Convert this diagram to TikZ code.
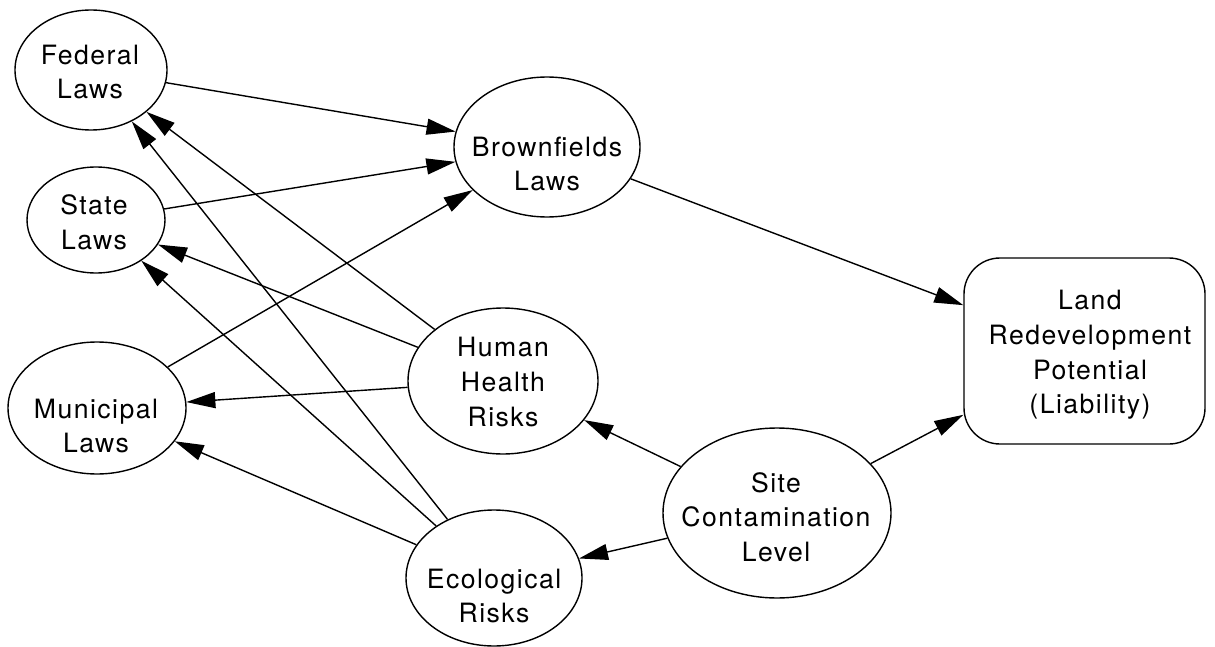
\documentclass[tikz,border=0pt]{standalone}
\usepackage{fontspec}
\setmainfont{TeX Gyre Heros}[LetterSpace=5.5]
\usetikzlibrary{shapes.geometric,arrows.meta}

\begin{document}
\begin{tikzpicture}[x=0.5pt,y=-0.5pt,
  oval/.style={ellipse, draw, line width=0.7pt, inner sep=0pt},
  lbl/.style={align=center, font=\fontsize{13.3}{17.3}\selectfont, inner sep=0pt},
  link/.style={line width=0.7pt, -{Triangle[length=14.5pt,width=8pt]}},
]
\useasboundingbox (0,0) rectangle (1215,647);

% nodes (outlines)
\node[oval, minimum width=76pt, minimum height=60pt] (fed) at (91,70) {};
\node[oval, minimum width=69pt, minimum height=53pt] (state) at (96,220) {};
\node[oval, minimum width=89pt, minimum height=66pt] (muni) at (97,408) {};
\node[oval, minimum width=93pt, minimum height=70pt] (brown) at (547,147) {};
\node[oval, minimum width=95pt, minimum height=73pt] (human) at (503,381) {};
\node[oval, minimum width=88pt, minimum height=68pt] (eco) at (494,578) {};
\node[oval, minimum width=114pt, minimum height=85pt] (site) at (777,513) {};
\node[draw, line width=0.7pt, rounded corners=18pt, inner sep=0pt,
      minimum width=120.5pt, minimum height=93pt] (land) at (1084.5,351) {};

% labels
\node[lbl] (fed-t) at (90,72) {Federal\\Laws};
\node[lbl] (state-t) at (94,222) {State\\Laws};
\node[lbl] (muni-t) at (96,426) {Municipal\\Laws};
\node[lbl] (brown-t) at (547,164) {Brownfields\\Laws};
\node[lbl] (human-t) at (503,382) {Human\\Health\\Risks};
\node[lbl] (eco-t) at (494,596) {Ecological\\Risks};
\node[lbl] (site-t) at (776,517) {Site\\Contamination\\Level};
\node[lbl] (land-t) at (1090,355) {Land\\Redevelopment\\Potential\\(Liability)};

% connectors
\draw[link] (fed) -- (brown);
\draw[link] (state) -- (brown);
\draw[link] (muni) -- (brown);
\draw[link] (human) -- (fed);
\draw[link] (eco) -- (fed);
\draw[link] (human) -- (state);
\draw[link] (eco) -- (state);
\draw[link] (human) -- (muni);
\draw[link] (eco) -- (muni);
\draw[link] (brown) -- (land);
\draw[link] (site) -- (land);
\draw[link] (site) -- (human);
\draw[link] (site) -- (eco);
\end{tikzpicture}
\end{document}
